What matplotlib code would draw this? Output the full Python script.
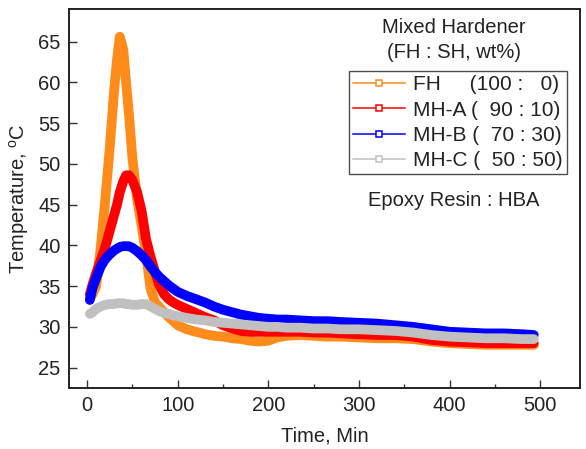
import matplotlib
matplotlib.use("Agg")
import matplotlib.pyplot as plt
from matplotlib.lines import Line2D

plt.rcParams['font.family'] = ['Liberation Sans', 'DejaVu Sans']

time_min = [3, 6, 10, 15, 20, 25, 30, 33, 36, 40, 43, 46, 50, 55, 60, 65, 70, 75, 80, 85,
            90, 95, 100, 110, 120, 130, 140, 150, 160, 170, 180, 190, 200, 210, 220, 235,
            250, 265, 280, 300, 320, 340, 360, 380, 400, 420, 440, 460, 480, 493]

fh = [33.5, 34.0, 35.0, 39.7, 45.6, 52.0, 59.3, 62.8, 65.6, 64.0, 60.0, 56.3, 50.7, 45.8,
      42.5, 38.9, 34.7, 33.0, 32.4, 31.8, 31.2, 30.7, 30.2, 29.7, 29.4, 29.1, 28.9, 28.8,
      28.6, 28.5, 28.3, 28.2, 28.3, 28.7, 28.9, 29.0, 28.9, 28.8, 28.8, 28.7, 28.6, 28.6,
      28.5, 28.2, 28.0, 27.9, 27.8, 27.8, 27.8, 27.8]

mh_a = [34.0, 35.2, 36.6, 38.2, 39.8, 41.8, 43.8, 45.0, 46.5, 47.9, 48.6, 48.6, 48.0, 46.6,
        44.3, 40.8, 38.6, 36.7, 35.0, 34.0, 33.4, 33.0, 32.7, 32.2, 31.7, 31.2, 30.8, 30.2,
        29.8, 29.5, 29.4, 29.4, 29.4, 29.4, 29.4, 29.4, 29.3, 29.3, 29.2, 29.1, 29.0, 29.0,
        28.8, 28.4, 28.2, 28.1, 28.0, 28.0, 28.0, 28.0]

mh_b = [33.3, 34.8, 36.0, 37.4, 38.3, 38.9, 39.4, 39.6, 39.8, 39.9, 39.9, 39.9, 39.7, 39.3,
        38.8, 38.2, 37.4, 36.7, 36.1, 35.6, 35.1, 34.7, 34.3, 33.8, 33.4, 33.0, 32.5, 32.1,
        31.8, 31.5, 31.3, 31.1, 31.0, 30.9, 30.9, 30.8, 30.7, 30.7, 30.6, 30.5, 30.4, 30.2,
        30.0, 29.7, 29.4, 29.3, 29.2, 29.2, 29.1, 29.0]

mh_c = [31.6, 31.8, 32.2, 32.5, 32.7, 32.8, 32.8, 32.9, 32.9, 32.9, 32.8, 32.8, 32.7, 32.7,
        32.8, 32.8, 32.5, 32.2, 31.9, 31.7, 31.6, 31.4, 31.3, 31.1, 30.9, 30.8, 30.6, 30.5,
        30.4, 30.3, 30.2, 30.1, 30.0, 30.0, 29.9, 29.9, 29.8, 29.8, 29.7, 29.7, 29.6, 29.5,
        29.3, 29.0, 28.8, 28.7, 28.6, 28.6, 28.5, 28.5]

series_labels = ['FH     (100 :   0)', 'MH-A (  90 : 10)', 'MH-B (  70 : 30)', 'MH-C (  50 : 50)']
series_colors = ['#FF8C1A', '#FF0000', '#0000FF', '#C0C0C0']
x_ticks = [0, 100, 200, 300, 400, 500]
y_ticks = [25, 30, 35, 40, 45, 50, 55, 60, 65]

FS = 14.5

fig = plt.figure(figsize=(5.86, 4.49), dpi=100)
ax = fig.add_axes([69/586, 1 - 388/449, 511/586, 379/449])

for vals, col in zip([fh, mh_a, mh_b, mh_c], series_colors):
    ax.plot(time_min, vals, color=col, lw=7, solid_capstyle='round', solid_joinstyle='round')

ax.set_xlim(-20, 544)
ax.set_ylim(22.5, 69)
ax.set_xticks(x_ticks)
ax.set_yticks(y_ticks)
ax.set_xticks([50, 150, 250, 350, 450], minor=True)
ax.tick_params(axis='both', which='major', direction='in', length=6, width=1,
               labelsize=FS, pad=6, color='#333333', labelcolor='#222222')
ax.tick_params(axis='x', which='minor', direction='in', length=3, width=1, color='#333333')
for s in ax.spines.values():
    s.set_linewidth(1.4)
    s.set_color('#222222')

ax.set_xlabel('Time, Min', fontsize=FS, labelpad=8, color='#222222')
ax.set_ylabel('Temperature, $^{\\mathregular{o}}$C', fontsize=FS, labelpad=5, color='#222222')

handles = [Line2D([], [], color=c, lw=1.1, marker='s', ms=4, mfc='white', mec=c, mew=1.1)
           for c in series_colors]
leg = ax.legend(handles, series_labels, loc='upper right', bbox_to_anchor=(0.975, 0.836),
                borderaxespad=0, prop={'size': 15}, frameon=True, fancybox=False,
                handlelength=2.5, handletextpad=0.4, labelspacing=0.3, borderpad=0.2)
for txt in leg.get_texts():
    txt.set_color('#222222')
leg.get_frame().set_edgecolor('#222222')
leg.get_frame().set_linewidth(1.0)

ax.text(0.753, 0.9525, 'Mixed Hardener', transform=ax.transAxes, ha='center', va='center',
        fontsize=FS, color='#222222')
ax.text(0.753, 0.884, '(FH : SH, wt%)', transform=ax.transAxes, ha='center', va='center',
        fontsize=FS, color='#222222')
ax.text(0.753, 0.496, 'Epoxy Resin : HBA', transform=ax.transAxes, ha='center', va='center',
        fontsize=FS, color='#222222')

fig.savefig('out.png', dpi=100)
